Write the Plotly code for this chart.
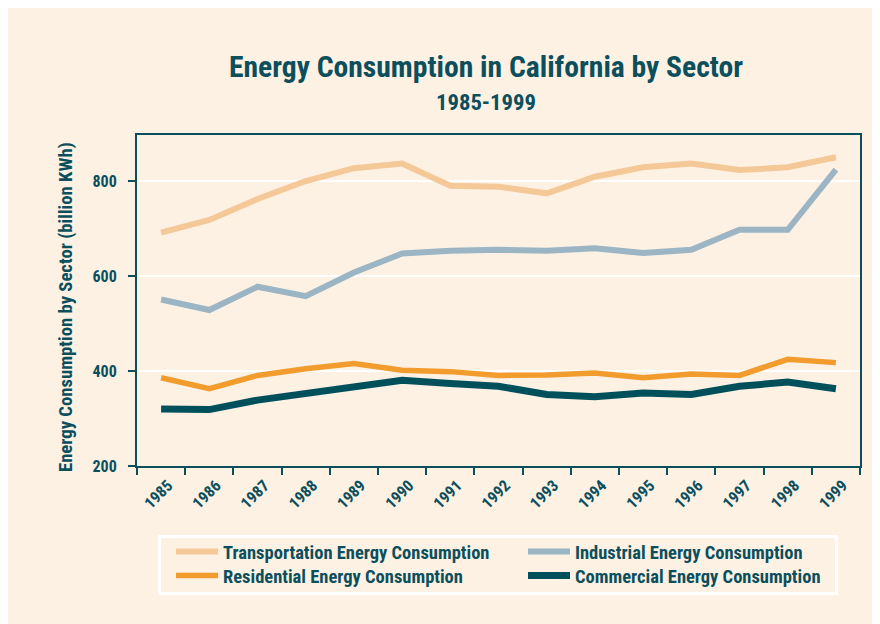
import plotly.graph_objects as go

years = ["1985", "1986", "1987", "1988", "1989", "1990", "1991", "1992",
         "1993", "1994", "1995", "1996", "1997", "1998", "1999"]
transportation = [692, 719, 763, 801, 828, 838, 791, 789, 775, 810, 830, 838, 824, 830, 851]
industrial = [551, 529, 578, 558, 608, 648, 654, 656, 654, 659, 649, 656, 698, 698, 825]
residential = [386, 363, 391, 405, 416, 402, 399, 391, 392, 396, 386, 394, 391, 425, 418]
commercial = [320, 319, 339, 353, 365, 381, 374, 368, 351, 346, 354, 351, 368, 377, 363]
y_ticks = [200, 400, 600, 800]

TEAL = "#0B4F5C"
CREAM = "#FDF1E4"
FONT = "Roboto Condensed, Open Sans Condensed, DejaVu Sans Condensed, sans-serif"

W, H = 880, 624
# plot area in figure pixels
L, R, T, B = 129, 852, 127, 458


def px(x):
    return (x - L) / (R - L)


def py(y):
    return (B - y) / (B - T)


fig = go.Figure()
series = [
    ("Transportation Energy Consumption", transportation, "#F5C897", 6, "legend"),
    ("Industrial Energy Consumption", industrial, "#9BB5C4", 6, "legend"),
    ("Residential Energy Consumption", residential, "#F39C2E", 5.5, "legend2"),
    ("Commercial Energy Consumption", commercial, "#00505C", 7, "legend2"),
]
for name, vals, color, w, lg in series:
    fig.add_trace(go.Scatter(x=years, y=vals, name=name, mode="lines", legend=lg,
                             line=dict(color=color, width=w)))

legend_common = dict(
    orientation="h", xanchor="left", yanchor="middle",
    bgcolor="rgba(0,0,0,0)", borderwidth=0,
    entrywidth=295, itemwidth=42,
    font=dict(family=FONT, size=18.5, color=TEAL, weight="bold"),
)

fig.update_layout(
    width=W, height=H,
    margin=dict(l=L, r=W - R, t=T, b=H - B),
    paper_bgcolor=CREAM, plot_bgcolor=CREAM,
    font=dict(family=FONT, color=TEAL, size=14),
    showlegend=True,
    legend=dict(x=px(163), y=py(544), **legend_common),
    legend2=dict(x=px(163), y=py(568), **legend_common),
    xaxis=dict(
        type="category", range=[-0.5, len(years) - 0.5],
        tickson="boundaries", ticks="outside", ticklen=7,
        tickwidth=2, tickcolor=TEAL, showline=True, linecolor=TEAL, linewidth=2,
        mirror=True, showgrid=False, tickangle=-45, ticklabelshift=7,
        ticklabelstandoff=2,
        tickfont=dict(family=FONT, size=16, color=TEAL, weight="bold"),
    ),
    yaxis=dict(
        range=[200, 898], tickvals=y_ticks, ticks="outside", ticklen=7,
        tickwidth=2, tickcolor=TEAL, showline=True, linecolor=TEAL, linewidth=2,
        mirror=True, showgrid=True, gridcolor="white", gridwidth=2,
        zeroline=False, ticklabelstandoff=8,
        tickfont=dict(family=FONT, size=16, color=TEAL, weight="bold"),
    ),
    shapes=[
        dict(type="rect", xref="paper", yref="paper",
             x0=px(151.5), x1=px(828.5), y0=py(585.5), y1=py(528.5),
             fillcolor=CREAM, line=dict(color="white", width=3), layer="below"),
    ],
    annotations=[
        dict(text="<b>Energy Consumption in California by Sector</b>", xref="paper", yref="paper",
             x=px(478), y=py(59), showarrow=False, xanchor="center", yanchor="middle",
             font=dict(family=FONT, size=29.6, color=TEAL)),
        dict(text="<b>1985-1999</b>", xref="paper", yref="paper",
             x=px(478), y=py(94), showarrow=False, xanchor="center", yanchor="middle",
             font=dict(family=FONT, size=22.7, color=TEAL)),
        dict(text="<b>Energy Consumption by Sector (billion KWh)</b>", xref="paper", yref="paper",
             x=px(58), y=py(299), showarrow=False, xanchor="center", yanchor="middle",
             textangle=-90, font=dict(family=FONT, size=18.7, color=TEAL)),
    ],
)

fig.write_html("out.html")
